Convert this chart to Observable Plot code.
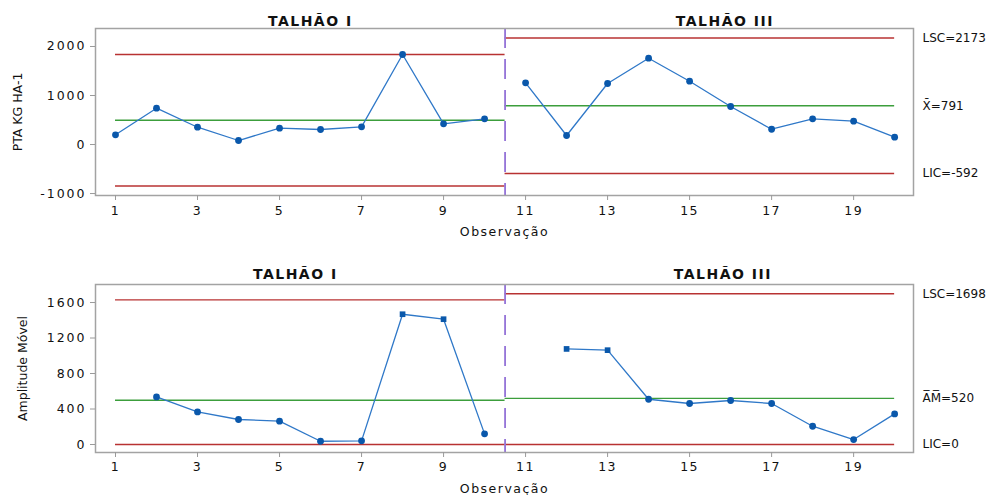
<!DOCTYPE html>
<html>
<head>
<meta charset="utf-8">
<script src="https://cdn.jsdelivr.net/npm/d3@7"></script>
<script src="https://cdn.jsdelivr.net/npm/@observablehq/plot@0.6"></script>
<style>
  body { margin: 0; background: #fff; }
  #chart svg { display: block; overflow: visible; }
  #chart text { font-family: "DejaVu Sans", sans-serif; fill: #111; }
  g[aria-label="y-axis tick label"] text { font-size: 12.5px; letter-spacing: 2px; }
  g[aria-label="x-axis tick label"] text { font-size: 12.5px; letter-spacing: 1.5px; }
  g[aria-label="x-axis label"] text { font-size: 12.5px; letter-spacing: 1.5px; }
  g[aria-label="y-axis label"] text { font-size: 12.5px; }
  g[aria-label="x-axis tick"], g[aria-label="y-axis tick"] { stroke: #9a9a9a; }
</style>
</head>
<body>
<div id="chart"></div>
<script>
// ---- data ----
const observations = [1, 2, 3, 4, 5, 6, 7, 8, 9, 10, 11, 12, 13, 14, 15, 16, 17, 18, 19, 20];
const stages = ["TALHÃO I", "TALHÃO I", "TALHÃO I", "TALHÃO I", "TALHÃO I", "TALHÃO I", "TALHÃO I", "TALHÃO I", "TALHÃO I", "TALHÃO I",
  "TALHÃO III", "TALHÃO III", "TALHÃO III", "TALHÃO III", "TALHÃO III", "TALHÃO III", "TALHÃO III", "TALHÃO III", "TALHÃO III", "TALHÃO III"];
const stageNames = ["TALHÃO I", "TALHÃO III"];
const stageStart = [1, 10.5];
const stageEnd = [10.5, 20];

// I chart (PTA KG HA-1)
const pta = [198, 741, 353, 82, 333, 306, 361, 1837, 422, 524, 1259, 184, 1245, 1761, 1292, 776, 312, 524, 476, 149];
const ptaLSC = [1837, 2173];
const ptaMean = [495, 791];
const ptaLIC = [-847, -592];
const ptaTicks = [-1000, 0, 1000, 2000];
const ptaLabels = ["LSC=2173", "X\u0304=791", "LIC=-592"];

// MR chart (Amplitude Móvel)
const mr = [null, 536, 367, 282, 263, 37, 41, 1468, 1412, 120, null, 1077, 1063, 510, 462, 496, 462, 206, 56, 345];
const mrFlagged = [8, 9, 12, 13];
const mrLSC = [1630, 1698];
const mrMean = [498, 520];
const mrLIC = [0, 0];
const mrTicks = [0, 400, 800, 1200, 1600];
const mrLabels = ["LSC=1698", "A\u0305M\u0305=520", "LIC=0"];

const xTicks = [1, 3, 5, 7, 9, 11, 13, 15, 17, 19];

// ---- styles ----
const RED = "#b83232", GREEN = "#3c9e3c", LINE = "#2f78c8", DOT = "#0a58ab", PURPLE = "#9473d8", FRAME = "#a3a3a3";

function limitRows(values) {
  return values.map((v, i) => ({value: v, start: stageStart[i], end: stageEnd[i]}));
}

function makeChart(cfg) {
  const rows = observations.map((o, i) => ({obs: o, stage: stages[i], v: cfg.values[i]}));
  const valid = rows.filter(d => d.v != null);
  const flagged = cfg.flagged || [];
  return Plot.plot({
    width: 1000,
    height: cfg.height,
    marginTop: cfg.marginTop,
    marginBottom: cfg.marginBottom,
    marginLeft: 95,
    marginRight: 87,
    style: {fontFamily: "DejaVu Sans", background: "#fff", overflow: "visible"},
    x: {domain: [0.512, 20.46]},
    y: {domain: cfg.yDomain},
    marks: [
      Plot.ruleY(limitRows(cfg.lsc), {y: "value", x1: "start", x2: "end", stroke: RED, strokeWidth: 1.4}),
      Plot.ruleY(limitRows(cfg.mean), {y: "value", x1: "start", x2: "end", stroke: GREEN, strokeWidth: 1.4}),
      Plot.ruleY(limitRows(cfg.lic), {y: "value", x1: "start", x2: "end", stroke: RED, strokeWidth: 1.4}),
      Plot.ruleX([stageStart[1]], {stroke: PURPLE, strokeWidth: 1.8, strokeDasharray: "20,11"}),
      Plot.line(valid, {x: "obs", y: "v", z: "stage", stroke: LINE, strokeWidth: 1.3}),
      Plot.dot(valid.filter(d => !flagged.includes(d.obs)), {x: "obs", y: "v", r: 3.4, fill: DOT, symbol: "circle"}),
      Plot.dot(valid.filter(d => flagged.includes(d.obs)), {x: "obs", y: "v", r: 3.2, fill: DOT, symbol: "square"}),
      Plot.frame({stroke: FRAME, strokeWidth: 1.5}),
      Plot.axisX(xTicks, {tickSize: 5, tickPadding: cfg.xPad, tickFormat: d => String(d),
        label: "Observação", labelAnchor: "center", labelOffset: cfg.xLabelOffset, labelArrow: "none"}),
      Plot.axisY(cfg.yTicks, {tickSize: 5, tickPadding: 4, tickFormat: d => String(d),
        label: cfg.yLabel, labelAnchor: "center", labelOffset: cfg.yLabelOffset, labelArrow: "none"}),
      Plot.text(cfg.labels, {y: [cfg.lsc[1], cfg.mean[1], cfg.lic[1]], frameAnchor: "right", dx: 9,
        textAnchor: "start", lineAnchor: "middle", fontSize: 12}),
      Plot.text([stageNames[0]], {x: (stageStart[0] + stageEnd[0]) / 2, frameAnchor: "top", dx: cfg.titleDx[0], dy: cfg.titleDy,
        lineAnchor: "bottom", fontWeight: "bold", fontSize: 14, textAnchor: "middle"}),
      Plot.text([stageNames[1]], {x: (stageStart[1] + stageEnd[1]) / 2, frameAnchor: "top", dx: cfg.titleDx[1], dy: cfg.titleDy,
        lineAnchor: "bottom", fontWeight: "bold", fontSize: 14, textAnchor: "middle"})
    ]
  });
}

const chartI = makeChart({
  height: 250, marginTop: 28, marginBottom: 55,
  yDomain: [-1040, 2367], yTicks: ptaTicks, yLabel: "PTA KG HA-1", yLabelOffset: 82,
  values: pta, lsc: ptaLSC, mean: ptaMean, lic: ptaLIC, labels: ptaLabels,
  xPad: 6, xLabelOffset: 40, titleDx: [0, 25], titleDy: -3
});
const chartMR = makeChart({
  height: 245, marginTop: 34, marginBottom: 43,
  yDomain: [-90, 1803], yTicks: mrTicks, yLabel: "Amplitude Móvel", yLabelOffset: 77,
  values: mr, lsc: mrLSC, mean: mrMean, lic: mrLIC, labels: mrLabels, flagged: mrFlagged,
  xPad: 5, xLabelOffset: 40, titleDx: [-15, 23], titleDy: -6
});
const root = document.getElementById("chart");
root.appendChild(chartI);
root.appendChild(chartMR);
document.querySelectorAll('#chart svg g[aria-label="text"]').forEach(g => {
  if (g.getAttribute("font-weight") === "bold") g.querySelectorAll("text").forEach(t => t.style.letterSpacing = "1.5px");
});
</script>
</body>
</html>
